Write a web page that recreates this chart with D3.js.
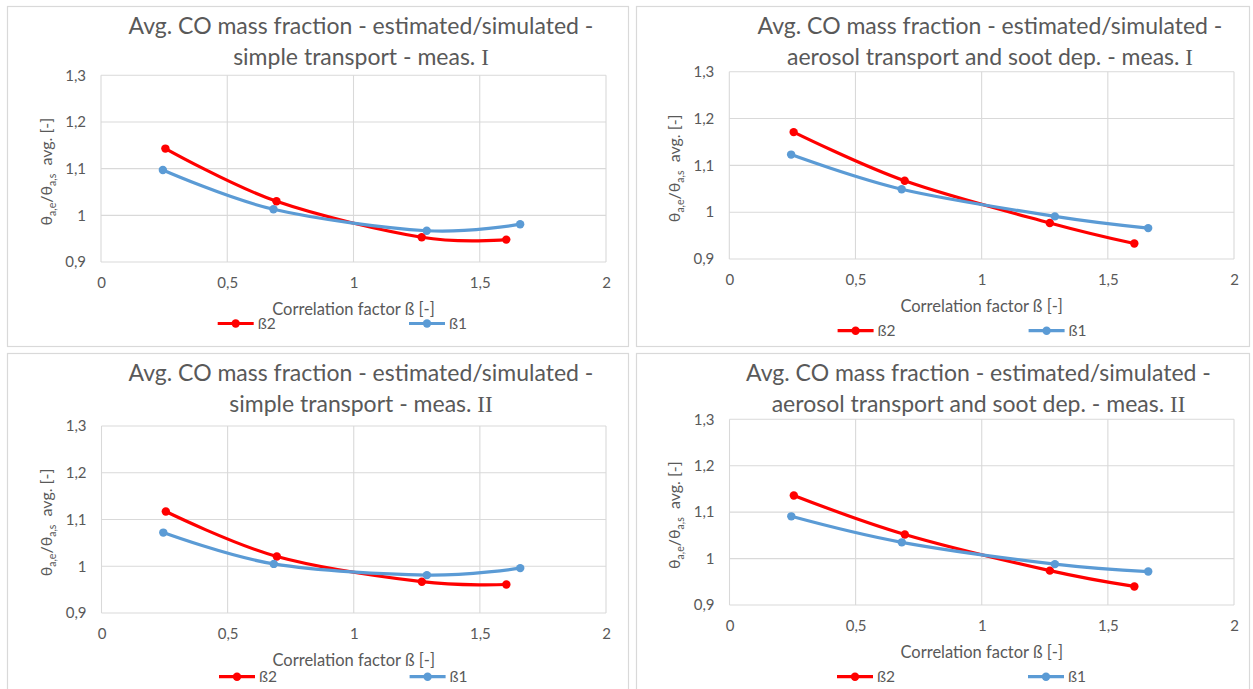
<!DOCTYPE html>
<html>
<head>
<meta charset="utf-8">
<script src="https://cdn.jsdelivr.net/npm/d3@7"></script>
<style>
  html, body { margin: 0; padding: 0; background: #ffffff; }
  svg { display: block; }
  text { font-family: Lato, "Open Sans", sans-serif; fill: #595959; }
</style>
</head>
<body>
<svg id="chart" width="1253" height="689"></svg>
<script>
// Correlation factor of the evaluated cases (x positions of the points)
const betaX2 = [0.255, 0.695, 1.27, 1.605];
const betaX1 = [0.245, 0.683, 1.29, 1.66];

// Ratio estimated/simulated average CO mass fraction, per chart and series
const simpleMeasI_b2   = [1.143, 1.030, 0.953, 0.948];
const simpleMeasI_b1   = [1.097, 1.013, 0.967, 0.981];
const aerosolMeasI_b2  = [1.171, 1.067, 0.977, 0.933];
const aerosolMeasI_b1  = [1.123, 1.049, 0.991, 0.966];
const simpleMeasII_b2  = [1.117, 1.021, 0.967, 0.961];
const simpleMeasII_b1  = [1.072, 1.005, 0.981, 0.996];
const aerosolMeasII_b2 = [1.136, 1.052, 0.974, 0.940];
const aerosolMeasII_b1 = [1.091, 1.035, 0.988, 0.972];

// Axis ticks and texts
const xTickValues = [0, 0.5, 1, 1.5, 2];
const yTickValues = [0.9, 1.0, 1.1, 1.2, 1.3];
const seriesNames = ["ß2", "ß1"];
const titleFirstLine = "Avg. CO mass fraction - estimated/simulated -";
const titleSecondLines = [
  "simple transport - meas. ",
  "aerosol transport and soot dep. - meas. ",
  "simple transport - meas. ",
  "aerosol transport and soot dep. - meas. "
];
const measNumerals = ["I", "I", "II", "II"];
const xAxisTitle = "Correlation factor ß [-]";

// Chart frames on the page
const layouts = [
  { box: [7, 6, 621, 340],   plot: { l: 101,   r: 606,  t: 75.3,  b: 262 },   titleX: 361,   titleY: 26,  legendY: 323.5, legendX: [217.7, 409] },
  { box: [636, 6, 613, 340], plot: { l: 729.3, r: 1234, t: 71.7,  b: 259 },   titleX: 990,   titleY: 26,  legendY: 330.7, legendX: [837.6, 1028.6] },
  { box: [7, 353, 621, 345], plot: { l: 101.5, r: 606,  t: 426,   b: 613 },   titleX: 361,   titleY: 373, legendY: 676.7, legendX: [219, 409.6] },
  { box: [636, 353, 613, 345], plot: { l: 729.5, r: 1234, t: 419.3, b: 605 }, titleX: 978.5, titleY: 373, legendY: 676.7, legendX: [837, 1028] }
];

const panelData = [
  [simpleMeasI_b2, simpleMeasI_b1],
  [aerosolMeasI_b2, aerosolMeasI_b1],
  [simpleMeasII_b2, simpleMeasII_b1],
  [aerosolMeasII_b2, aerosolMeasII_b1]
];
const seriesX = [betaX2, betaX1];
const seriesColors = ["#FF0000", "#5B9BD5"];

const locale = d3.formatLocale({ decimal: ",", thousands: ".", grouping: [3], currency: ["", " €"] });
const fmt = locale.format("~g");

const svg = d3.select("#chart");
const gridColor = "#D9D9D9";
const textColor = "#595959";

function drawPanel(i) {
  const L = layouts[i];
  const P = L.plot;
  const g = svg.append("g");

  g.append("rect")
    .attr("x", L.box[0] + 0.5).attr("y", L.box[1] + 0.5)
    .attr("width", L.box[2]).attr("height", L.box[3])
    .attr("fill", "#ffffff").attr("stroke", gridColor).attr("stroke-width", 1.2);

  const x = d3.scaleLinear().domain([0, 2]).range([P.l, P.r]);
  const y = d3.scaleLinear().domain([0.9, 1.3]).range([P.b, P.t]);

  // gridlines
  g.append("g").selectAll("line.h").data(yTickValues).join("line")
    .attr("x1", P.l).attr("x2", P.r)
    .attr("y1", d => y(d)).attr("y2", d => y(d))
    .attr("stroke", gridColor).attr("stroke-width", 1.1);
  g.append("g").selectAll("line.v").data(xTickValues).join("line")
    .attr("x1", d => x(d)).attr("x2", d => x(d))
    .attr("y1", P.t).attr("y2", P.b)
    .attr("stroke", gridColor).attr("stroke-width", 1.1);

  // axes (labels only)
  const yAxis = g.append("g").attr("transform", `translate(${P.l},0)`)
    .call(d3.axisLeft(y).tickValues(yTickValues).tickFormat(fmt).tickSize(0).tickPadding(15));
  const xAxis = g.append("g").attr("transform", `translate(0,${P.b})`)
    .call(d3.axisBottom(x).tickValues(xTickValues).tickFormat(fmt).tickSize(0).tickPadding(15.5));
  [yAxis, xAxis].forEach(a => {
    a.select(".domain").remove();
    a.attr("font-family", null).attr("font-size", null);
    a.selectAll("text").style("font-size", "15px").style("fill", textColor);
  });

  // title
  const title = g.append("text").attr("text-anchor", "middle").style("font-size", "23px");
  title.append("tspan").attr("x", L.titleX).attr("y", L.titleY).attr("dy", "0.36em").text(titleFirstLine);
  const l2 = title.append("tspan").attr("x", L.titleX).attr("y", L.titleY + 31).attr("dy", "0.36em");
  l2.append("tspan").text(titleSecondLines[i]);
  l2.append("tspan").style("font-family", "'Liberation Serif', serif").text(measNumerals[i]);

  // y axis title
  const yl = g.append("text")
    .attr("transform", `translate(${P.l - 55},${(P.t + P.b) / 2 + 3}) rotate(-90)`)
    .attr("text-anchor", "middle").attr("dy", "0.36em").style("font-size", "16px");
  yl.append("tspan").text("θ");
  yl.append("tspan").attr("dy", 4).style("font-size", "10.5px").text("a,e");
  yl.append("tspan").attr("dy", -4).text("/θ");
  yl.append("tspan").attr("dy", 4).style("font-size", "10.5px").text("a,s");
  yl.append("tspan").attr("dy", -4).text("\u00a0\u00a0avg. [-]");

  // x axis title
  g.append("text").attr("x", (P.l + P.r) / 2).attr("y", P.b + 47).attr("dy", "0.36em")
    .attr("text-anchor", "middle").style("font-size", "16.5px").text(xAxisTitle);

  // series
  const curve = d3.curveCatmullRom.alpha(0);
  panelData[i].forEach((vals, s) => {
    const pts = vals.map((v, k) => [seriesX[s][k], v]);
    const line = d3.line().x(d => x(d[0])).y(d => y(d[1])).curve(curve);
    g.append("path").attr("d", line(pts)).attr("fill", "none")
      .attr("stroke", seriesColors[s]).attr("stroke-width", 3.2)
      .attr("stroke-linecap", "round").attr("stroke-linejoin", "round");
    g.append("g").selectAll("circle").data(pts).join("circle")
      .attr("cx", d => x(d[0])).attr("cy", d => y(d[1])).attr("r", 4.2)
      .attr("fill", seriesColors[s]);
  });

  // legend
  seriesNames.forEach((name, s) => {
    const lx = L.legendX[s];
    const lg = g.append("g");
    lg.append("line").attr("x1", lx).attr("x2", lx + 36)
      .attr("y1", L.legendY).attr("y2", L.legendY)
      .attr("stroke", seriesColors[s]).attr("stroke-width", 3.2);
    lg.append("circle").attr("cx", lx + 18).attr("cy", L.legendY).attr("r", 4.2).attr("fill", seriesColors[s]);
    lg.append("text").attr("x", lx + 40).attr("y", L.legendY).attr("dy", "0.36em")
      .style("font-size", "15.5px").text(name);
  });
}

layouts.forEach((_, i) => drawPanel(i));
</script>
</body>
</html>
